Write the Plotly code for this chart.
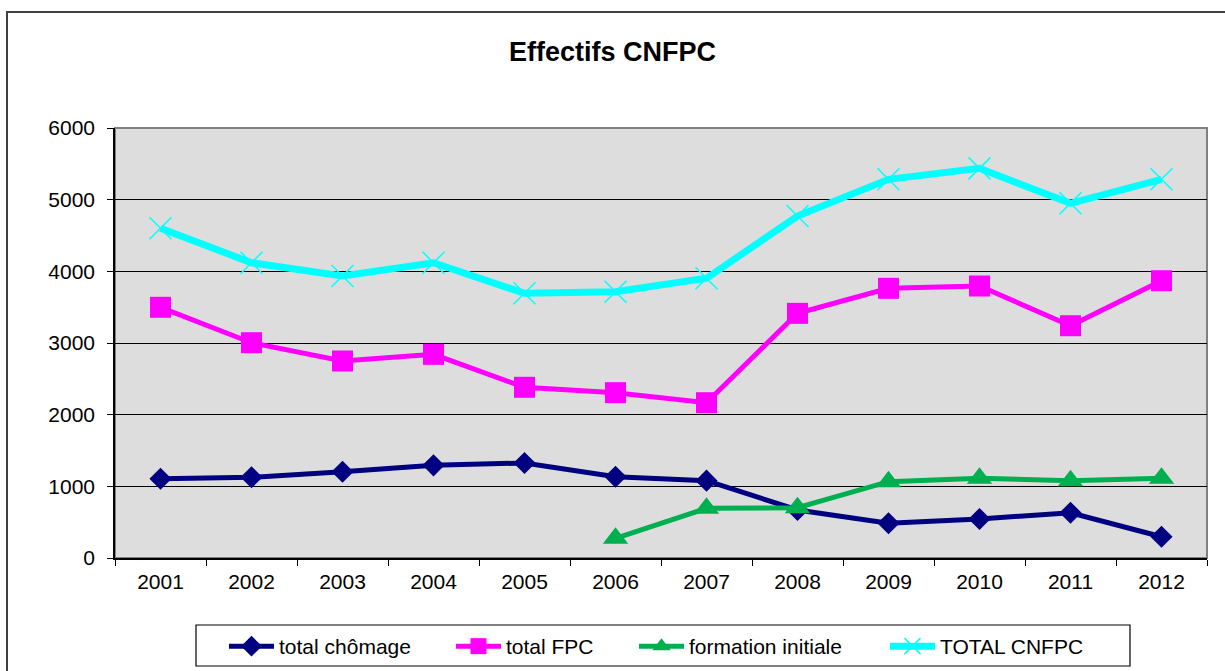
import plotly.graph_objects as go

years = ["2001", "2002", "2003", "2004", "2005", "2006", "2007", "2008", "2009", "2010", "2011", "2012"]
total_chomage = [1106, 1126, 1204, 1293, 1326, 1134, 1079, 670, 484, 544, 632, 297]
total_fpc = [3498, 3004, 2749, 2842, 2382, 2307, 2167, 3414, 3763, 3795, 3241, 3869]
formation_initiale = [None, None, None, None, None, 275, 693, 702, 1065, 1112, 1079, 1112]
total_cnfpc = [4600, 4120, 3935, 4120, 3693, 3716, 3903, 4772, 5284, 5437, 4949, 5284]

FONT = "Liberation Sans, Arial, sans-serif"

fig = go.Figure()
fig.add_trace(go.Scatter(
    x=years, y=total_chomage, name="total chômage", mode="lines+markers",
    line=dict(color="#000080", width=5), legend="legend",
    marker=dict(symbol="diamond", size=17, color="#000080")))
fig.add_trace(go.Scatter(
    x=years, y=total_fpc, name="total FPC", mode="lines+markers",
    line=dict(color="#FF00FF", width=5), legend="legend2",
    marker=dict(symbol="square", size=21, color="#FF00FF")))
fig.add_trace(go.Scatter(
    x=years, y=formation_initiale, name="formation initiale", mode="lines+markers",
    line=dict(color="#00B050", width=5), legend="legend3",
    marker=dict(symbol="triangle-up", size=22, color="#00B050")))
fig.add_trace(go.Scatter(
    x=years, y=total_cnfpc, name="TOTAL CNFPC", mode="lines+markers",
    line=dict(color="#00FFFF", width=7), legend="legend4",
    marker=dict(symbol="x-thin", size=22, color="#00FFFF",
                line=dict(color="#00FFFF", width=1.5))))


def leg(px):
    return dict(orientation="h", xref="container", x=(px - 7) / 1225, xanchor="left",
                yref="container", y=1 - 626 / 671, yanchor="top",
                borderwidth=0, bgcolor="rgba(0,0,0,0)",
                font=dict(family=FONT, size=21), itemwidth=45)


fig.update_layout(
    width=1225, height=671,
    paper_bgcolor="white", plot_bgcolor="#DDDDDD",
    margin=dict(l=115, r=18, t=128, b=113, autoexpand=False),
    font=dict(family=FONT, size=21, color="black"),
    title=dict(text="<b>Effectifs CNFPC</b>", x=0.5, xanchor="center",
               y=1 - 52 / 671, yanchor="middle",
               font=dict(family=FONT, size=27, color="black")),
    showlegend=True,
    legend=leg(231), legend2=leg(458), legend3=leg(641), legend4=leg(892),
    xaxis=dict(type="category", range=[-0.5, 11.5], showgrid=False, tickson="boundaries",
               ticks="outside", ticklen=6, tickcolor="black",
               showline=True, linecolor="black", linewidth=1.5,
               ticklabelstandoff=4,
               tickfont=dict(family=FONT, size=21)),
    yaxis=dict(range=[0, 6000], dtick=1000, showgrid=True, gridcolor="black",
               gridwidth=1, ticks="outside", ticklen=6, tickcolor="black",
               showline=True, linecolor="black", linewidth=1.5,
               zeroline=False, ticklabelstandoff=8,
               tickfont=dict(family=FONT, size=21)),
    shapes=[
        dict(type="rect", xref="paper", yref="paper", x0=0, x1=1, y0=0, y1=1,
             line=dict(color="#808080", width=2), layer="below"),
        dict(type="rect", xref="paper", yref="paper",
             x0=(7 - 115) / 1092, x1=1.2, y0=-0.5, y1=(558 - 12) / 430,
             line=dict(color="#404040", width=2), layer="below"),
        dict(type="rect", xref="paper", yref="paper",
             x0=(196 - 115) / 1092, x1=(1130 - 115) / 1092,
             y0=(558 - 666) / 430, y1=(558 - 625) / 430,
             line=dict(color="black", width=1.2), layer="below"),
    ],
)

fig.write_html("out.html", config={"displayModeBar": False},
               post_script="document.body.style.margin='0';")
